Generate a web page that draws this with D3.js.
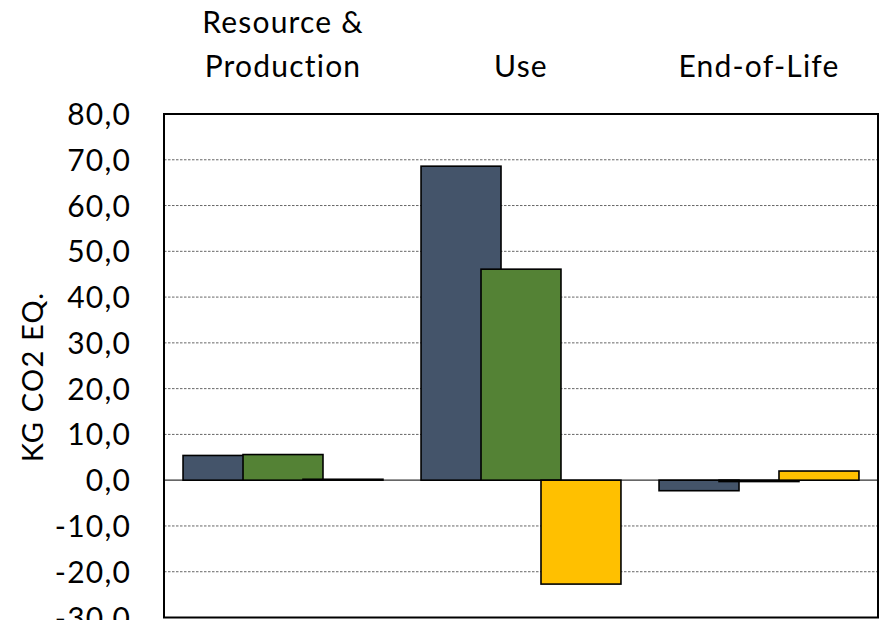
<!DOCTYPE html>
<html>
<head>
<meta charset="utf-8">
<script src="https://cdn.jsdelivr.net/npm/d3@7"></script>
<style>
  html, body { margin: 0; padding: 0; background: #fff; }
  svg { display: block; font-family: Lato, "Open Sans", sans-serif; }
  svg text { letter-spacing: 1.2px; }
</style>
</head>
<body>
<svg id="chart" width="884" height="620"></svg>
<script>
// Life-cycle stages and the three compared scenarios
const categories = ["Resource & Production", "Use", "End-of-Life"];
const categoryLines = [["Resource &", "Production"], ["Use"], ["End-of-Life"]];
const series = ["A", "B", "C"];
const seriesColors = ["#44546A", "#548235", "#FFC000"];
// kg CO2 eq. per stage, one array per scenario
const valuesA = [5.4, 68.6, -2.3];
const valuesB = [5.6, 46.1, -0.3];
const valuesC = [0.2, -22.7, 2.0];
const yTicks = [80, 70, 60, 50, 40, 30, 20, 10, 0, -10, -20, -30];
const yTitle = "KG CO2 EQ.";

const seriesValues = [valuesA, valuesB, valuesC];

const svg = d3.select("#chart");
const plot = { left: 164, right: 878, top: 114, bottom: 617.5 };

const x = d3.scaleBand().domain(categories).range([plot.left, plot.right]).paddingInner(0).paddingOuter(0);
const y = d3.scaleLinear().domain([-30, 80]).range([plot.bottom, plot.top]);

// bars overlap by a quarter of their width
const barW = x.bandwidth() * 0.336;
const step = barW * 0.75;
const offset = d3.scaleLinear().domain([0, series.length - 1]).range([-step, step]);

// gridlines
svg.append("g")
  .selectAll("line")
  .data(yTicks.filter(t => t !== 0 && t !== 80 && t !== -30))
  .join("line")
  .attr("x1", plot.left).attr("x2", plot.right)
  .attr("y1", d => y(d)).attr("y2", d => y(d))
  .attr("stroke", "#666").attr("stroke-width", 1)
  .attr("stroke-dasharray", "2.5,1.5");

// zero line
svg.append("line")
  .attr("x1", plot.left).attr("x2", plot.right)
  .attr("y1", y(0)).attr("y2", y(0))
  .attr("stroke", "#333").attr("stroke-width", 1.2);

// bars
const rows = [];
categories.forEach((c, ci) => series.forEach((s, si) => rows.push({ c, si, v: seriesValues[si][ci] })));

svg.append("g")
  .selectAll("rect")
  .data(rows)
  .join("rect")
  .attr("x", d => x(d.c) + x.bandwidth() / 2 + offset(d.si) - barW / 2)
  .attr("width", barW)
  .attr("y", d => Math.min(y(d.v), y(0)))
  .attr("height", d => Math.abs(y(d.v) - y(0)))
  .attr("fill", d => seriesColors[d.si])
  .attr("stroke", "#000")
  .attr("stroke-width", 1.6);

// plot frame
svg.append("rect")
  .attr("x", plot.left).attr("y", plot.top)
  .attr("width", plot.right - plot.left).attr("height", plot.bottom - plot.top)
  .attr("fill", "none").attr("stroke", "#000").attr("stroke-width", 2);

// y axis labels, comma decimal and plain hyphen for negatives
const yAxis = d3.axisLeft(y).tickValues(yTicks).tickSize(0).tickPadding(0)
  .tickFormat(d => d3.format(".1f")(d).replace(".", ",").replace("\u2212", "-"));
const gy = svg.append("g").attr("transform", `translate(131,0)`).call(yAxis);
gy.select(".domain").remove();
gy.selectAll("text")
  .attr("font-family", "Lato, 'Open Sans', sans-serif")
  .attr("font-size", 30)
  .attr("fill", "#000")
  .attr("dy", "0.35em");

// category labels across the top
const head = svg.append("g");
categories.forEach((c, i) => {
  const lines = categoryLines[i];
  lines.forEach((ln, li) => {
    head.append("text")
      .attr("x", x(c) + x.bandwidth() / 2)
      .attr("y", 66 - (lines.length - 1 - li) * 44)
      .attr("dy", "0.35em")
      .attr("text-anchor", "middle")
      .attr("font-size", 30)
      .attr("fill", "#000")
      .text(ln);
  });
});

// axis title
svg.append("text")
  .attr("transform", `translate(33,377) rotate(-90)`)
  .attr("text-anchor", "middle")
  .attr("dy", "0.35em")
  .attr("font-size", 29)
  .attr("fill", "#000")
  .text(yTitle);
</script>
</body>
</html>
